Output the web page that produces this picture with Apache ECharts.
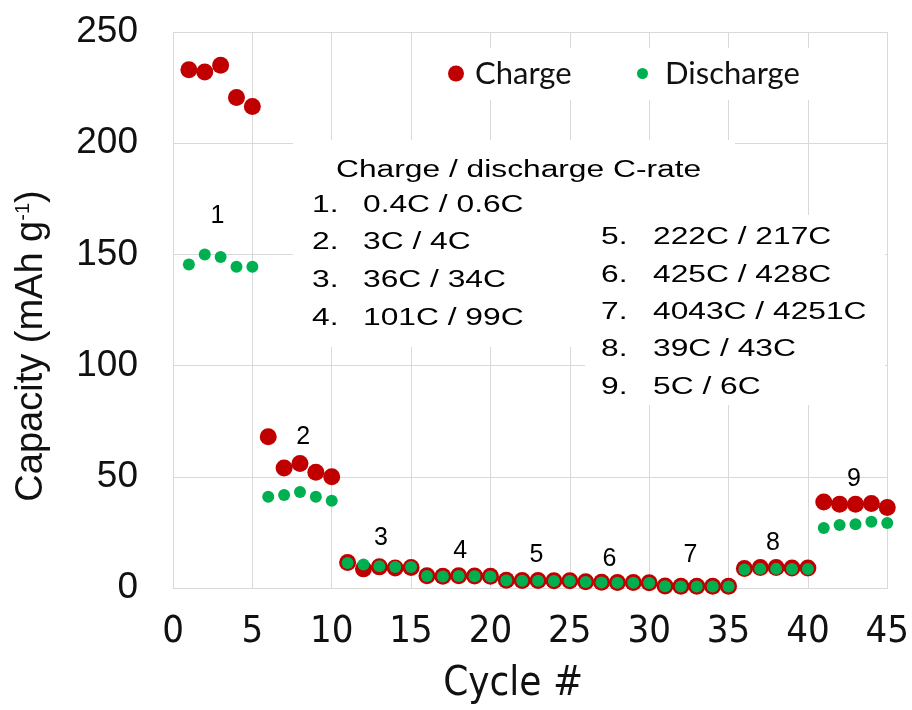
<!DOCTYPE html>
<html>
<head>
<meta charset="utf-8">
<title>Capacity vs cycle</title>
<script src="https://cdn.jsdelivr.net/npm/echarts@6.0.0/dist/echarts.min.js"></script>
<style>
  html, body { margin: 0; padding: 0; background: #fff; }
  #main { width: 912px; height: 710px; }
</style>
</head>
<body>
<div id="main"></div>
<script>
// cycle numbers and capacities (mAh g-1)
var cycles = [1, 2, 3, 4, 5, 6, 7, 8, 9, 10, 11, 12, 13, 14, 15, 16, 17, 18, 19, 20, 21, 22, 23,
  24, 25, 26, 27, 28, 29, 30, 31, 32, 33, 34, 35, 36, 37, 38, 39, 40, 41, 42, 43, 44, 45];
var charge = [233, 232, 235, 220.5, 216.5,
  68, 54, 56, 52, 50,
  11.5, 8.6, 9.5, 9, 9.2,
  5.5, 5.3, 5.5, 5.4, 5.3,
  3.5, 3.4, 3.4, 3.3, 3.3,
  2.8, 2.6, 2.5, 2.5, 2.4,
  0.9, 0.8, 0.8, 0.8, 0.8,
  8.8, 9.2, 9.2, 9, 9,
  38.7, 37.7, 37.7, 38, 36.2];
var discharge = [145.5, 150, 148.8, 144.4, 144.4,
  41, 41.8, 43.2, 41, 39.2,
  11.2, 10.6, 9.8, 9.4, 9.4,
  5.4, 5.2, 5.4, 5.3, 5.2,
  3.4, 3.3, 3.3, 3.2, 3.2,
  2.7, 2.5, 2.4, 2.4, 2.3,
  0.8, 0.7, 0.7, 0.7, 0.7,
  8.3, 8.6, 8.6, 8.5, 8.5,
  27, 28.3, 28.7, 29.8, 29.2];

// step labels 1..9 placed near each group of five cycles (data coords)
var groupNames = ['1', '2', '3', '4', '5', '6', '7', '8', '9'];
var groupLabelX = [2.8, 8.2, 13.1, 18.1, 22.9, 27.5, 32.6, 37.8, 42.9];
var groupLabelY = [167, 68, 22.5, 16.8, 14.6, 13.2, 14.6, 20.4, 49];

var rateTitle = 'Charge / discharge C-rate';
var rateLabels = ['0.4C / 0.6C', '3C / 4C', '36C / 34C', '101C / 99C',
  '222C / 217C', '425C / 428C', '4043C / 4251C', '39C / 43C', '5C / 6C'];

var xMin = 0, xMax = 45, xStep = 5;
var yMin = 0, yMax = 250, yStep = 50;

var ARIAL = '"Liberation Sans", Arial, sans-serif';
var NARROW = '"Liberation Sans Narrow", "DejaVu Sans Condensed", "Liberation Sans", sans-serif';
var GRID = '#d9d9d9';

function pairs(vals) {
  return vals.map(function (v, i) { return [cycles[i], v]; });
}

function plainText(x, y, str, size, align) {
  return {
    type: 'text', x: x, y: y, z: 3, silent: true,
    style: {
      text: str, font: size + 'px ' + ARIAL, fill: '#000',
      textAlign: align, textVerticalAlign: 'middle', align: align, verticalAlign: 'middle'
    }
  };
}

// the text boxes in the source are stretched sideways
var stretch = 1.38;
function boxText(x, y, str) {
  var t = plainText(x, y, str, 23, 'left');
  t.scaleX = stretch;
  return t;
}

var graphics = [
  // white boxes behind the legend and the notes hide the grid lines
  { type: 'rect', z: 1, silent: true, shape: { x: 440, y: 48, width: 395, height: 52 }, style: { fill: '#fff' } },
  { type: 'rect', z: 1, silent: true, shape: { x: 293, y: 140, width: 442, height: 207 }, style: { fill: '#fff' } },
  { type: 'rect', z: 1, silent: true, shape: { x: 585, y: 215, width: 300, height: 190 }, style: { fill: '#fff' } },
  boxText(336, 171, rateTitle)
];
for (var i = 0; i < 4; i++) {
  graphics.push(boxText(312, 205.5 + i * 37.6, (i + 1) + '.'));
  graphics.push(boxText(363, 205.5 + i * 37.6, rateLabels[i]));
}
for (var j = 4; j < 9; j++) {
  graphics.push(boxText(601, 238 + (j - 4) * 37.3, (j + 1) + '.'));
  graphics.push(boxText(653, 238 + (j - 4) * 37.3, rateLabels[j]));
}

var chart = echarts.init(document.getElementById('main'));
var option = {
  animation: false,
  backgroundColor: '#fff',
  textStyle: { fontFamily: ARIAL },
  grid: { left: 173, right: 23, top: 32, bottom: 117 },
  legend: [
    {
      data: ['Charge'], left: 448, top: 58, padding: 0,
      icon: 'circle', itemWidth: 16, itemHeight: 16,
      textStyle: { fontFamily: 'Lato, "Open Sans", sans-serif', fontSize: 31, color: '#111', padding: [0, 0, 0, 6] }
    },
    {
      data: ['Discharge'], left: 637, top: 58, padding: 0,
      icon: 'circle', itemWidth: 11, itemHeight: 11,
      textStyle: { fontFamily: 'Lato, "Open Sans", sans-serif', fontSize: 31, color: '#111', padding: [0, 0, 0, 12] }
    }
  ],
  xAxis: {
    type: 'value', min: xMin, max: xMax, interval: xStep,
    name: 'Cycle #', nameLocation: 'middle', nameGap: 77,
    nameTextStyle: { fontFamily: NARROW, fontSize: 40, color: '#111', padding: [0, 34, 0, 0] },
    axisLine: { show: true, lineStyle: { color: GRID, width: 1 } },
    axisTick: { show: false },
    axisLabel: { fontFamily: NARROW, fontSize: 38, color: '#111', margin: 25 },
    splitLine: { show: true, lineStyle: { color: GRID, width: 1 } }
  },
  yAxis: {
    type: 'value', min: yMin, max: yMax, interval: yStep,
    name: 'Capacity (mAh g{sup|-1})', nameLocation: 'middle', nameGap: 122,
    nameTextStyle: {
      fontFamily: ARIAL, fontSize: 38, color: '#111', padding: [0, 72, 0, 0],
      rich: { sup: { fontFamily: ARIAL, fontSize: 20, verticalAlign: 'top', color: '#111', padding: [0, 0, 16, 0] } }
    },
    axisLine: { show: true, lineStyle: { color: GRID, width: 1 } },
    axisTick: { show: false },
    axisLabel: { fontFamily: ARIAL, fontSize: 37, color: '#111', margin: 35 },
    splitLine: { show: true, lineStyle: { color: GRID, width: 1 } }
  },
  graphic: graphics,
  series: [
    {
      name: 'Charge', type: 'scatter', data: pairs(charge),
      symbolSize: 17, itemStyle: { color: '#c00000', opacity: 1 }, z: 2
    },
    {
      name: 'Discharge', type: 'scatter', data: pairs(discharge),
      symbolSize: 12, itemStyle: { color: '#00b050', opacity: 1 }, z: 3
    }
  ]
};
chart.setOption(option);

// step numbers go through the axis scales
var stepTexts = groupNames.map(function (n, k) {
  var p = chart.convertToPixel({ gridIndex: 0 }, [groupLabelX[k], groupLabelY[k]]);
  return plainText(p[0], p[1], n, 25, 'center');
});
chart.setOption({ graphic: graphics.concat(stepTexts) });
</script>
</body>
</html>
